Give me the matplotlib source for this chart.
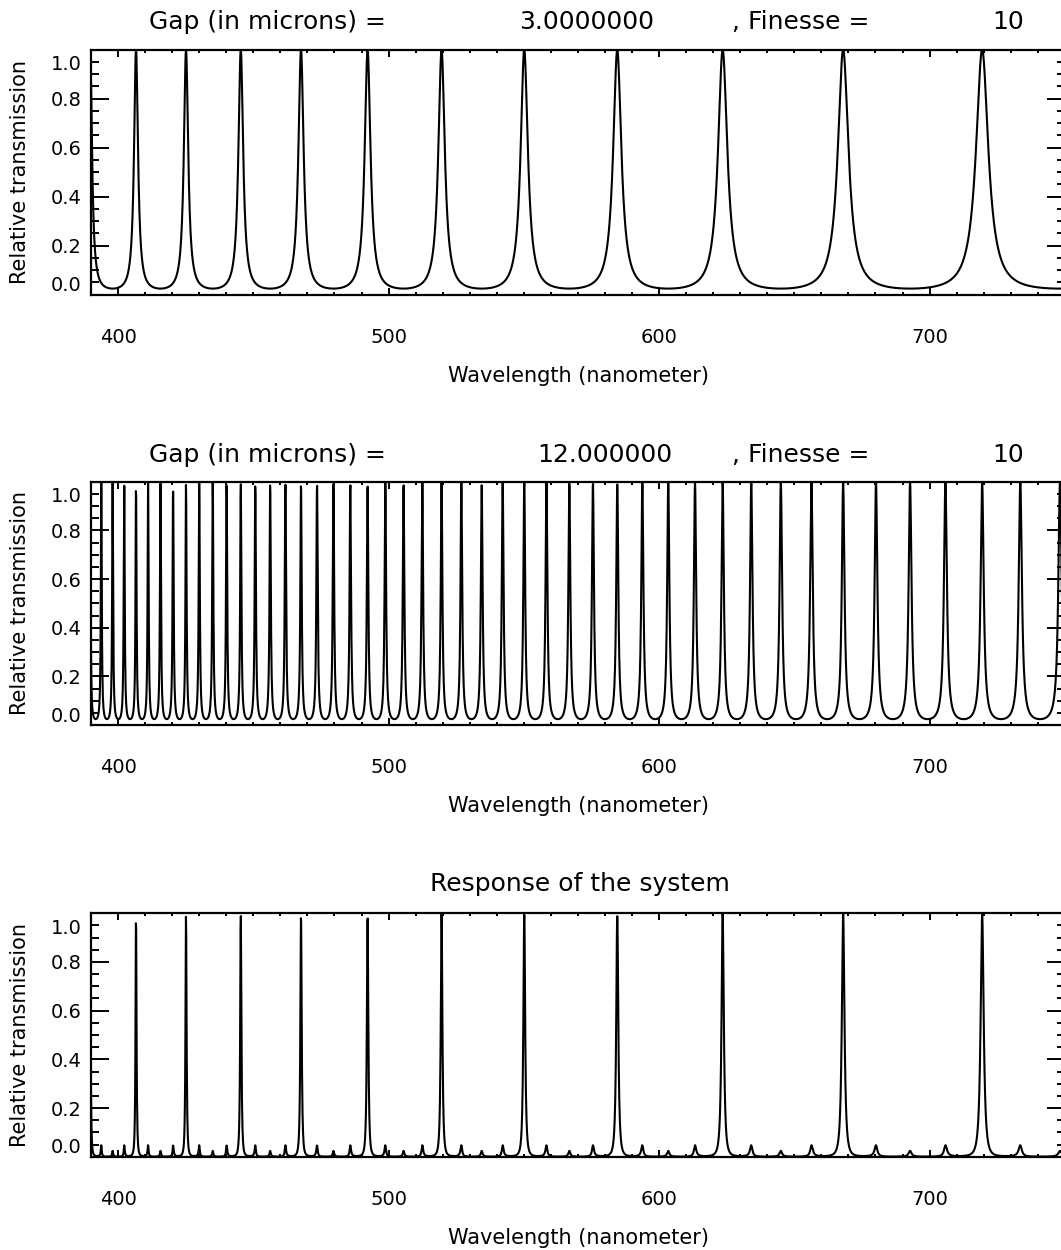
import numpy as np
import matplotlib.pyplot as plt
from matplotlib.ticker import MultipleLocator
import matplotlib.transforms as mtransforms

# transmission peaks of the 3 micron etalon (nm)
peaks_3um = [406.4, 425.2, 445.5, 468.0, 492.4, 519.9, 549.5, 584.6, 623.3, 668.0, 719.5]
gaps = [3.0, 12.0]          # microns, from the titles
finesse = 10
gap_labels = ["3.0000000", "12.000000"]
xticks = [400, 500, 600, 700]
yticks = [0.0, 0.2, 0.4, 0.6, 0.8, 1.0]
wl = np.arange(390, 750.01, 0.1)   # wavelength sampling of the curves

# optical path constant from the peak positions (lambda_m = K / m)
inv = 1.0 / np.array(peaks_3um)
slope = np.polyfit(np.arange(len(inv)), inv, 1)[0]
K0 = 1.0 / abs(slope)
orders = np.round(K0 * inv)
K3 = np.mean(orders / inv)

coef = (2 * finesse / np.pi) ** 2


def airy(K):
    return 1.0 / (1.0 + coef * np.sin(np.pi * K / wl) ** 2)


t1 = airy(K3 * gaps[0] / 3.0)
t2 = airy(K3 * gaps[1] / 3.0)
curves = [t1, t2, t1 * t2]

W, H = 1061, 1250
fig = plt.figure(figsize=(W / 100, H / 100), dpi=100)
plt.rcParams['font.family'] = 'DejaVu Sans'

ax_left, ax_w = 91 / W, 973.8 / W
tops = [49.5, 481.7, 913.3]
bots = [294.5, 725.0, 1156.7]

for i in range(3):
    ax = fig.add_axes([ax_left, 1 - bots[i] / H, ax_w, (bots[i] - tops[i]) / H])
    ax.plot(wl, curves[i], color='black', lw=1.5)
    ax.set_xlim(390, 750)
    ax.set_ylim(0, 1)
    ax.set_xticks(xticks)
    ax.set_yticks(yticks)
    ax.set_yticklabels([f"{v:.1f}" for v in yticks])
    ax.xaxis.set_minor_locator(MultipleLocator(10))
    ax.yaxis.set_minor_locator(MultipleLocator(0.05))
    ax.tick_params(axis='both', which='both', direction='in', top=True, right=True,
                   labelsize=14, width=1.4, color='black')
    ax.tick_params(axis='y', which='major', length=13, pad=7)
    ax.tick_params(axis='y', which='minor', length=6)
    ax.tick_params(axis='x', which='major', length=5, pad=24)
    ax.tick_params(axis='x', which='minor', length=2)
    for s in ax.spines.values():
        s.set_linewidth(1.6)
    # end labels pulled inside the frame, as in the original
    labs = ax.get_yticklabels()
    labs[0].set_transform(labs[0].get_transform() +
                          mtransforms.ScaledTranslation(0, 0.11, fig.dpi_scale_trans))
    labs[-1].set_transform(labs[-1].get_transform() +
                           mtransforms.ScaledTranslation(0, -0.13, fig.dpi_scale_trans))

    yc = (tops[i] + bots[i]) / 2
    fig.text(20 / W, 1 - yc / H, "Relative transmission", rotation=90,
             ha='center', va='center', fontsize=15)
    fig.text(579 / W, 1 - (bots[i] + 81) / H, "Wavelength (nanometer)",
             ha='center', va='center', fontsize=15)

# titles
for i, y in enumerate([22, 455]):
    fig.text(267 / W, 1 - y / H, "Gap (in microns) =", ha='center', va='center', fontsize=18)
    fig.text((587 if i == 0 else 605) / W, 1 - y / H, gap_labels[i],
             ha='center', va='center', fontsize=18)
    fig.text(801 / W, 1 - y / H, ", Finesse =", ha='center', va='center', fontsize=18)
    fig.text(1008 / W, 1 - y / H, str(finesse), ha='center', va='center', fontsize=18)
fig.text(580 / W, 1 - 884 / H, "Response of the system", ha='center', va='center', fontsize=18)

fig.savefig("out.png", dpi=100)
